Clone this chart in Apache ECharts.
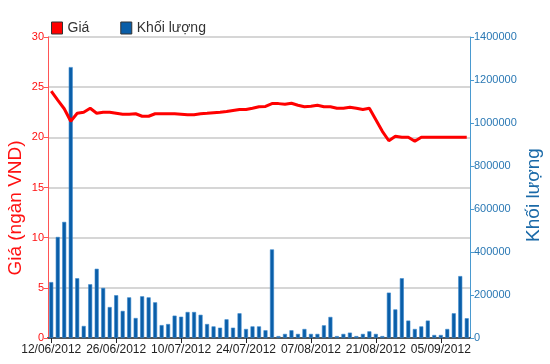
<!DOCTYPE html>
<html>
<head>
<meta charset="utf-8">
<script src="https://cdn.jsdelivr.net/npm/echarts@6/dist/echarts.min.js"></script>
<style>html,body{margin:0;padding:0;background:#fff}#c{width:550px;height:364px}</style>
</head>
<body>
<div id="c"></div>
<script>
const dates = [
  '12/06/2012','13/06/2012','14/06/2012','15/06/2012','18/06/2012','19/06/2012','20/06/2012','21/06/2012','22/06/2012','25/06/2012',
  '26/06/2012','27/06/2012','28/06/2012','29/06/2012','02/07/2012','03/07/2012','04/07/2012','05/07/2012','06/07/2012','09/07/2012',
  '10/07/2012','11/07/2012','12/07/2012','13/07/2012','16/07/2012','17/07/2012','18/07/2012','19/07/2012','20/07/2012','23/07/2012',
  '24/07/2012','25/07/2012','26/07/2012','27/07/2012','30/07/2012','31/07/2012','01/08/2012','02/08/2012','03/08/2012','06/08/2012',
  '07/08/2012','08/08/2012','09/08/2012','10/08/2012','13/08/2012','14/08/2012','15/08/2012','16/08/2012','17/08/2012','20/08/2012',
  '21/08/2012','22/08/2012','23/08/2012','24/08/2012','27/08/2012','28/08/2012','29/08/2012','30/08/2012','31/08/2012','04/09/2012',
  '05/09/2012','06/09/2012','07/09/2012','10/09/2012','11/09/2012'
];
const price = [
  24.6,23.7,22.85,21.6,22.4,22.5,22.9,22.4,22.5,22.5,
  22.4,22.3,22.3,22.35,22.1,22.1,22.35,22.35,22.35,22.35,
  22.3,22.25,22.26,22.35,22.4,22.46,22.5,22.57,22.67,22.77,
  22.77,22.9,23.05,23.08,23.36,23.36,23.3,23.4,23.2,23.05,
  23.1,23.2,23.05,23.05,22.9,22.9,23.0,22.9,22.77,22.9,
  21.75,20.6,19.66,20.1,20.0,20.0,19.6,20.0,20.0,20.0,
  20.0,20.0,20.0,20.0,20.0
];
const volume = [
  260000,470000,540000,1260000,278000,56000,250000,322000,233000,144000,
  199000,126000,189000,93000,194000,189000,166000,60000,65000,104000,
  99000,121000,121000,108000,65000,54000,48000,87000,48000,115000,
  42000,54000,54000,36000,412000,9000,19000,36000,19000,42000,
  19000,19000,59000,98000,9000,19000,25000,9000,19000,31000,
  19000,9000,211000,133000,278000,81000,42000,54000,81000,14000,
  14000,42000,115000,288000,92000
];
const priceTicks = {min: 0, max: 30, interval: 5};
const volTicks = {min: 0, max: 1400000, interval: 200000};

const chart = echarts.init(document.getElementById('c'), null, {renderer: 'canvas'});
const font = 'Arial, "Liberation Sans", sans-serif';
chart.setOption({
  animation: false,
  textStyle: {fontFamily: font},
  legend: {
    left: 51, top: 21, padding: 0, itemWidth: 11, itemHeight: 12, itemGap: 31,
    textStyle: {fontSize: 14, color: '#333', fontFamily: font},
    data: [
      {name: 'Giá', icon: 'rect', itemStyle: {color: '#ff0000', borderColor: '#333', borderWidth: 1}},
      {name: 'Khối lượng', icon: 'rect', itemStyle: {color: '#0a5ea8', borderColor: '#333', borderWidth: 1}}
    ]
  },
  grid: {left: 48, right: 80, top: 37, bottom: 26, containLabel: false, outerBoundsMode: 'none'},
  xAxis: [{
    type: 'category', data: dates, boundaryGap: true, position: 'bottom',
    axisLine: {lineStyle: {color: '#222', width: 1.5}},
    axisTick: {show: true, alignWithLabel: true, interval: 9, length: 5, lineStyle: {color: '#222'}},
    axisLabel: {interval: 9, color: '#222', fontSize: 12, margin: 6, fontFamily: font},
    splitLine: {show: false}
  }, {
    type: 'category', data: dates, position: 'top',
    axisLine: {show: true, lineStyle: {color: '#555', width: 2}},
    axisTick: {show: false}, axisLabel: {show: false}, splitLine: {show: false}
  }],
  yAxis: [{
    type: 'value', position: 'left', min: priceTicks.min, max: priceTicks.max, interval: priceTicks.interval,
    name: 'Giá (ngàn VND)', nameLocation: 'middle', nameGap: 23, nameRotate: 90, nameMoveOverlap: false,
    nameTextStyle: {color: '#ff1010', fontSize: 19, fontFamily: font, padding: [0, 41, 0, 0]},
    axisLine: {show: true, lineStyle: {color: '#ff5555', width: 1}},
    axisTick: {show: true, length: 4, lineStyle: {color: '#ff5555'}},
    axisLabel: {color: '#ff1010', fontSize: 11, margin: 4, fontFamily: font},
    splitLine: {show: true, lineStyle: {color: '#c8c8c8', width: 1.5}}
  }, {
    type: 'value', position: 'right', min: volTicks.min, max: volTicks.max, interval: volTicks.interval,
    name: 'Khối lượng', nameLocation: 'middle', nameGap: 54, nameRotate: 90, nameMoveOverlap: false,
    nameTextStyle: {color: '#1b6aa8', fontSize: 19, fontFamily: font, padding: [0, 15, 0, 0]},
    axisLine: {show: true, lineStyle: {color: '#4a9ad0', width: 1}},
    axisTick: {show: true, length: 4, lineStyle: {color: '#4a9ad0'}},
    axisLabel: {color: '#2a78b4', fontSize: 11, margin: 4, fontFamily: font, formatter: v => String(v)},
    splitLine: {show: false}
  }],
  series: [{
    name: 'Giá', type: 'line', data: price, yAxisIndex: 0, xAxisIndex: 0,
    showSymbol: false, symbol: 'none',
    lineStyle: {color: '#ff0000', width: 3},
    itemStyle: {color: '#ff0000'}
  }, {
    name: 'Khối lượng', type: 'bar', data: volume, yAxisIndex: 1, xAxisIndex: 0,
    barWidth: 4,
    itemStyle: {color: '#0a5ea8', borderColor: '#3a88cc', borderWidth: 0.6}
  }]
});
</script>
</body>
</html>
